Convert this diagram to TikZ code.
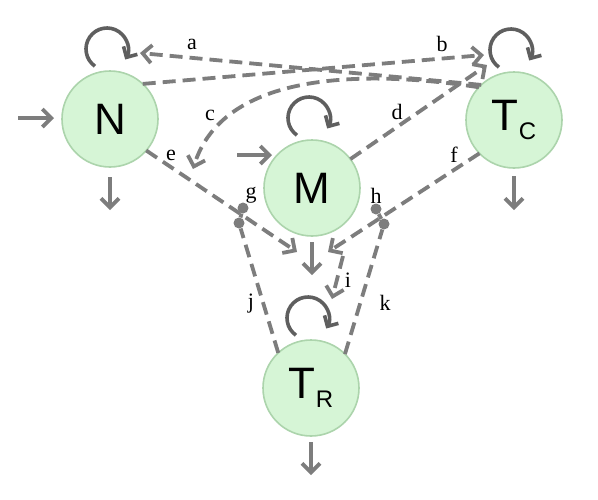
\documentclass[tikz,border=0pt]{standalone}
\usepackage{fontspec}
\setmainfont{Liberation Serif}
\newfontfamily\nodefont{Liberation Sans}
\usetikzlibrary{arrows.meta,calc}
\definecolor{nodefill}{RGB}{214,245,214}
\definecolor{nodeedge}{RGB}{172,212,172}
\definecolor{arr}{RGB}{125,125,125}
\definecolor{loopc}{RGB}{95,95,95}
\begin{document}
\begin{tikzpicture}[x=1pt,y=1pt,
  state/.style={circle,fill=nodefill,draw=nodeedge,line width=1.6pt,minimum size=96pt,inner sep=0pt,outer sep=0pt,font=\nodefont\fontsize{44}{44}\selectfont},
  flow/.style={draw=arr,line width=3.8pt,-{Straight Barb[length=9pt,width=18pt]}},
  reg/.style={flow,dash pattern=on 13pt off 7pt},
  selfloop/.style={draw=loopc,line width=3.6pt,-{Straight Barb[length=8pt,width=16pt]}},
  lab/.style={font=\fontsize{22}{22}\selectfont,inner sep=0pt},
  knob/.style={circle,fill=arr,inner sep=0pt,minimum size=11pt}
]
\useasboundingbox (0,0) rectangle (598,-499);

% compartments
\node[state] (N) at (110,-119) {N};
\node[state] (Tc) at (514,-120) {T\raisebox{-9pt}{\fontsize{24}{24}\selectfont C}};
\node[state] (M) at (312,-188) {M};
\node[state] (TR) at (311,-388) {T\raisebox{-9pt}{\fontsize{24}{24}\selectfont R}};

% free ends
\coordinate (Nin) at (18,-118);
\coordinate (Nin2) at (54,-118);
\coordinate (Min) at (237,-155);
\coordinate (Min2) at (272,-155);
\coordinate (Nout) at (110,-177);
\coordinate (Nout2) at (110,-210);
\coordinate (Tcout) at (514,-176);
\coordinate (Tcout2) at (514,-210);
\coordinate (Mout) at (312,-242);
\coordinate (Mout2) at (312,-275);
\coordinate (TRout) at (311,-442);
\coordinate (TRout2) at (311,-475);
\coordinate (aend) at (140,-53);
\coordinate (bend) at (484,-55);
\coordinate (cend) at (193,-169);
\coordinate (dend) at (487,-65);
\coordinate (eend) at (297,-252);
\coordinate (fend) at (328,-252);
\coordinate (istart) at (343,-256);
\coordinate (iend) at (332,-299);

% knobs
\node[knob] (gA) at (239,-223) {};
\node[knob] (gB) at (243,-208) {};
\node[knob] (hA) at (384,-224) {};
\node[knob] (hB) at (376,-209) {};

% self loops
\foreach \n in {N,Tc,M,TR}
  \draw[selfloop] ($(\n.center)+(-3,70)+(235:21)$) arc[start angle=235,end angle=-30,radius=21];

% inputs and outputs
\draw[flow] (Nin) -- (Nin2);
\draw[flow] (Min) -- (Min2);
\draw[flow] (Nout) -- (Nout2);
\draw[flow] (Tcout) -- (Tcout2);
\draw[flow] (Mout) -- (Mout2);
\draw[flow] (TRout) -- (TRout2);

% dashed fluxes
\draw[reg] (Tc.133) -- (aend);
\draw[reg] (N.47) -- (bend);
\draw[reg] (Tc.137) .. controls (380,-72) and (225,-66) .. (cend);
\draw[reg] (M.37) -- (dend);
\draw[reg] (N.-41) -- (eend);
\draw[reg] (Tc.224) -- (fend);
\draw[reg] (istart) -- (iend);
\draw[reg,-] (TR.133) -- (gA);
\draw[reg,-] (TR.45) -- (hA);
\draw[draw=arr,line width=3.8pt] (gA) -- (gB);
\draw[draw=arr,line width=3.8pt] (hA) -- (hB);

% labels
\node[lab] (la) at (192,-44) {a};
\node[lab] (lb) at (442,-44) {b};
\node[lab] (lc) at (210,-115) {c};
\node[lab] (ld) at (397,-112) {d};
\node[lab] (le) at (171,-155) {e};
\node[lab] (lf) at (454,-155) {f};
\node[lab] (lg) at (251,-195) {g};
\node[lab] (lh) at (376,-196) {h};
\node[lab] (li) at (348,-280) {i};
\node[lab] (lj) at (251,-304) {j};
\node[lab] (lk) at (385,-303) {k};
\end{tikzpicture}
\end{document}
